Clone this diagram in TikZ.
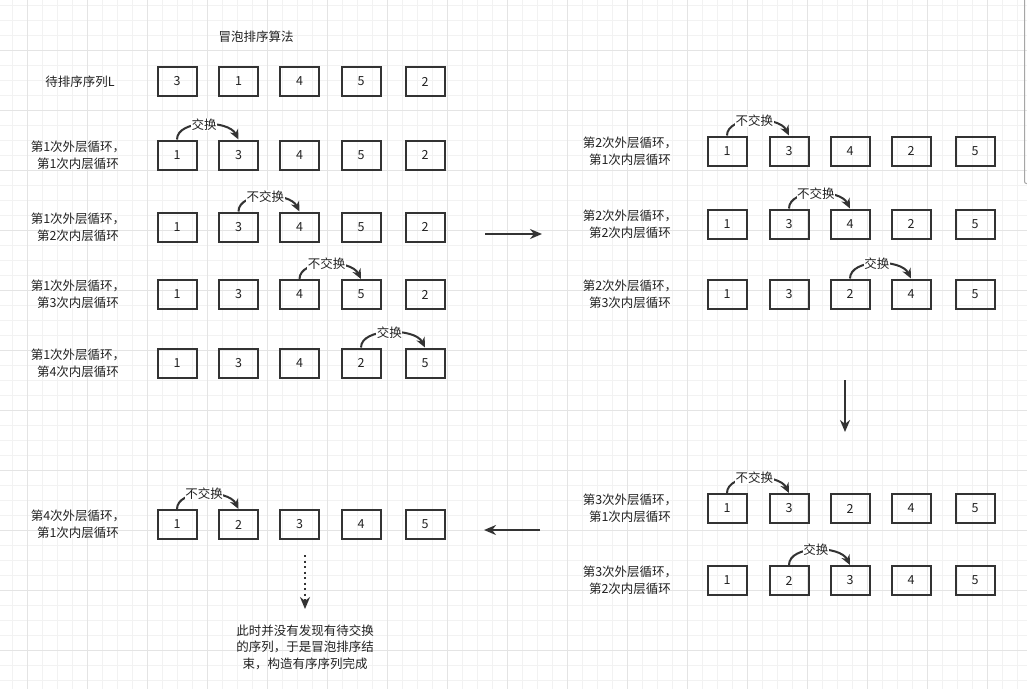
\documentclass[tikz,border=0pt]{standalone}
\usepackage{fontspec}
\newfontfamily\cjk{Noto Sans CJK SC}
\usetikzlibrary{arrows.meta}
\definecolor{ink}{HTML}{333333}
\definecolor{txt}{HTML}{222222}
\definecolor{gminor}{HTML}{F2F2F2}
\definecolor{gmajor}{HTML}{E4E4E4}
\newcommand\mkrowL[7]{%
  \node[box] (#1-1) at (177,#2) {#3};
  \node[box] (#1-2) at (238.5,#2) {#4};
  \node[box] (#1-3) at (299.5,#2) {#5};
  \node[box] (#1-4) at (361,#2) {#6};
  \node[box] (#1-5) at (425,#2) {#7};}
\newcommand\mkrowR[7]{%
  \node[box] (#1-1) at (727,#2) {#3};
  \node[box] (#1-2) at (789,#2) {#4};
  \node[box] (#1-3) at (850,#2) {#5};
  \node[box] (#1-4) at (911,#2) {#6};
  \node[box] (#1-5) at (975,#2) {#7};}
\begin{document}
\begin{tikzpicture}[x=1pt,y=-1pt,
  box/.style={draw=ink, line width=2pt, minimum width=39pt, minimum height=29pt, inner sep=0pt, font=\cjk\fontsize{12.5}{14}\selectfont, text=txt},
  lbl/.style={font=\cjk\fontsize{12.5}{17}\selectfont, align=center, text=txt, inner sep=0pt},
  swaplbl/.style={font=\cjk\fontsize{12.5}{14}\selectfont, fill=white, inner sep=0.5pt, text=txt},
  curv/.style={draw=ink, line width=2pt, -{Stealth[length=10pt,width=9pt]}},
  arr/.style={draw=ink, line width=2pt, -{Stealth[length=12pt,width=10pt]}},
  dotarr/.style={draw=ink, line width=2pt, dash pattern=on 2pt off 3.5pt, -{Stealth[length=12pt,width=10pt]}},
  gmin/.style={draw=gminor, line width=1pt},
  gmaj/.style={draw=gmajor, line width=1pt}]
\useasboundingbox (0,0) rectangle (1027,689);
\fill[white] (0,0) rectangle (1027,689);
% grid
\foreach \x in {12,27,...,1026} \draw[gmin] (\x,0) -- (\x,689);
\foreach \y in {5,20,...,688} \draw[gmin] (0,\y) -- (1027,\y);
\foreach \x in {27,87,...,1026} \draw[gmaj] (\x,0) -- (\x,689);
\foreach \y in {50,110,...,688} \draw[gmaj] (0,\y) -- (1027,\y);
% scrollbar edge
\draw[draw=black!35, line width=1pt, rounded corners=2pt] (1024.5,-2) -- (1024.5,183.5) -- (1030,183.5);

% title and labels
\node[lbl] (title) at (256,37) {冒泡排序算法};
\node[lbl] (tL) at (80,82) {待排序序列L};
\node[lbl] (t11) at (78,155) {第1次外层循环，\\第1次内层循环};
\node[lbl] (t12) at (78,227) {第1次外层循环，\\第2次内层循环};
\node[lbl] (t13) at (78,294.5) {第1次外层循环，\\第3次内层循环};
\node[lbl] (t14) at (78,363) {第1次外层循环，\\第4次内层循环};
\node[lbl] (t41) at (78,524) {第4次外层循环，\\第1次内层循环};
\node[lbl] (t21) at (630,151) {第2次外层循环，\\第1次内层循环};
\node[lbl] (t22) at (630,224) {第2次外层循环，\\第2次内层循环};
\node[lbl] (t23) at (630,294) {第2次外层循环，\\第3次内层循环};
\node[lbl] (t31) at (630,508.5) {第3次外层循环，\\第1次内层循环};
\node[lbl] (t32) at (630,580.5) {第3次外层循环，\\第2次内层循环};
\node[lbl, font=\cjk\fontsize{12.5}{16.5}\selectfont] (fin) at (305,647) {此时并没有发现有待交换\\的序列，于是冒泡排序结\\束，构造有序序列完成};

% rows
\mkrowL{L}{81.5}{3}{1}{4}{5}{2}
\mkrowL{a}{155}{1}{3}{4}{5}{2}
\mkrowL{b}{227}{1}{3}{4}{5}{2}
\mkrowL{c}{294.5}{1}{3}{4}{5}{2}
\mkrowL{d}{363}{1}{3}{4}{2}{5}
\mkrowL{h}{524.5}{1}{2}{3}{4}{5}
\mkrowR{e}{151}{1}{3}{4}{2}{5}
\mkrowR{f}{224}{1}{3}{4}{2}{5}
\mkrowR{g}{294}{1}{3}{2}{4}{5}
\mkrowR{i}{508.5}{1}{3}{2}{4}{5}
\mkrowR{j}{580.5}{1}{2}{3}{4}{5}

% curved swap arrows
\draw[curv] (a-1.north) .. controls +(0,-20) and +(-10,-20) .. node[swaplbl]{交换} (a-2.north);
\draw[curv] (b-2.north) .. controls +(0,-20) and +(-10,-20) .. node[swaplbl]{不交换} (b-3.north);
\draw[curv] (c-3.north) .. controls +(0,-20) and +(-10,-20) .. node[swaplbl]{不交换} (c-4.north);
\draw[curv] (d-4.north) .. controls +(0,-20) and +(-10,-20) .. node[swaplbl]{交换} (d-5.north);
\draw[curv] (h-1.north) .. controls +(0,-20) and +(-10,-20) .. node[swaplbl]{不交换} (h-2.north);
\draw[curv] (e-1.north) .. controls +(0,-20) and +(-10,-20) .. node[swaplbl]{不交换} (e-2.north);
\draw[curv] (f-2.north) .. controls +(0,-20) and +(-10,-20) .. node[swaplbl]{不交换} (f-3.north);
\draw[curv] (g-3.north) .. controls +(0,-20) and +(-10,-20) .. node[swaplbl]{交换} (g-4.north);
\draw[curv] (i-1.north) .. controls +(0,-20) and +(-10,-20) .. node[swaplbl]{不交换} (i-2.north);
\draw[curv] (j-2.north) .. controls +(0,-20) and +(-10,-20) .. node[swaplbl]{交换} (j-3.north);

% flow arrows
\coordinate (p1) at (485,234);
\coordinate (p2) at (542,234);
\coordinate (p3) at (845,380);
\coordinate (p4) at (845,432);
\coordinate (p5) at (540,530);
\coordinate (p6) at (484,530);
\coordinate (p7) at (305,555);
\coordinate (p8) at (305,609);
\draw[arr] (p1) -- (p2);
\draw[arr] (p3) -- (p4);
\draw[arr] (p5) -- (p6);
\draw[dotarr] (p7) -- (p8);
\end{tikzpicture}
\end{document}
